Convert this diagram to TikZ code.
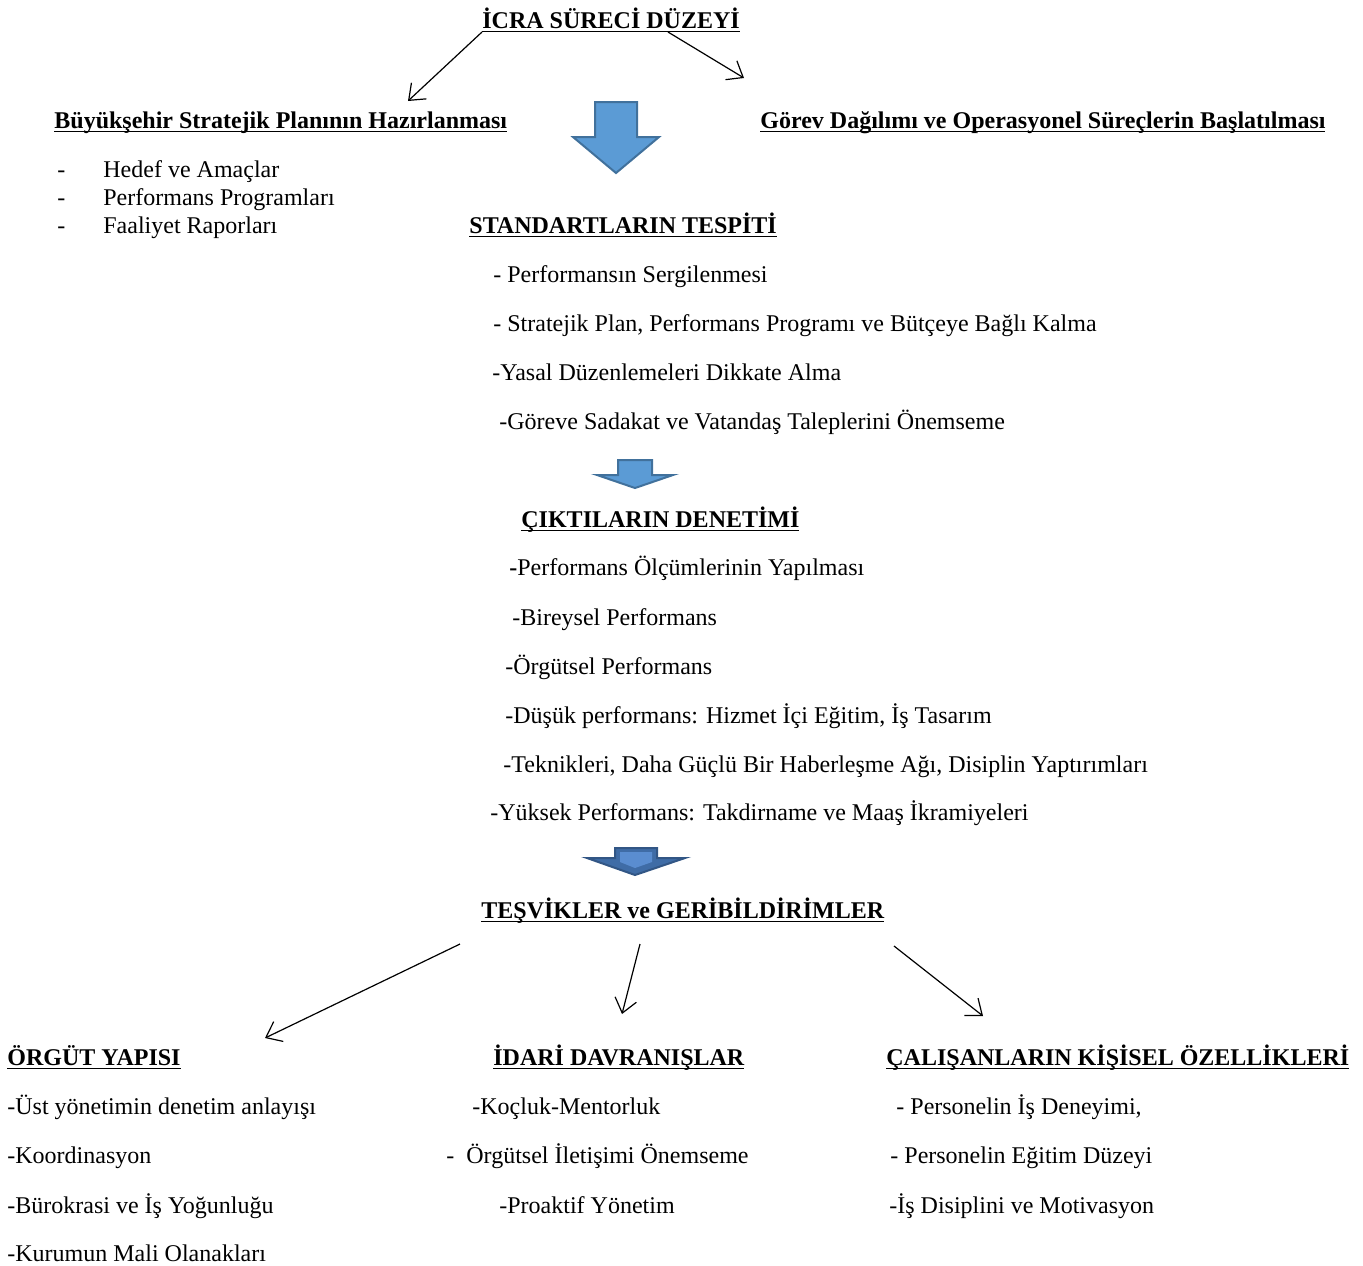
\documentclass[tikz,border=0pt]{standalone}
\usepackage{fontspec}
\setmainfont{Liberation Serif}
\usetikzlibrary{arrows.meta}
\tikzset{
  txt/.style={anchor=base west, inner sep=0pt, font=\fontsize{12}{14}\selectfont},
  head/.style={anchor=base west, inner sep=0pt, font=\fontsize{12}{14}\selectfont\bfseries},
  conn/.style={draw=black, line width=0.6pt, -{Straight Barb[length=7pt,width=11pt]}},
  blk/.style={fill=blockfill, draw=blockedge, line width=1pt, line join=miter},
}
\definecolor{blockfill}{HTML}{5B9BD5}
\definecolor{blockedge}{HTML}{41719C}
\definecolor{darkfill}{HTML}{3F6CA6}
\definecolor{innerfill}{HTML}{5A8DD0}
\newcommand{\hul}[1]{\setbox0\hbox{#1}\leavevmode\rlap{\raisebox{-2.2pt}{\rule{\wd0}{0.8pt}}}\box0}
\begin{document}
\begin{tikzpicture}[x=0.5pt,y=-0.5pt]
\useasboundingbox (0,0) rectangle (1363,1265);

% title
\node[head] (title) at (482,28) {\hul{İCRA SÜRECİ DÜZEYİ}};
\coordinate (tL) at (482,32);
\coordinate (tR) at (668,32);
\node[head] (plan) at (54,128) {\hul{Büyükşehir Stratejik Planının Hazırlanması}};
\node[head] (gorev) at (760,128) {\hul{Görev Dağılımı ve Operasyonel Süreçlerin Başlatılması}};
\coordinate (pE) at (408,101);
\coordinate (gE) at (744,78);
\draw[conn] (tL) -- (pE);
\draw[conn] (tR) -- (gE);

\node[txt] (d1) at (57,177) {-};
\node[txt] (p1) at (103,177) {Hedef ve Amaçlar};
\node[txt] (d2) at (57,205) {-};
\node[txt] (p2) at (103,205) {Performans Programları};
\node[txt] (d3) at (57,233) {-};
\node[txt] (p3) at (103,233) {Faaliyet Raporları};

% big block arrow 1
\draw[blk] (595,102) -- (637,102) -- (637,137) -- (659,137) -- (616,173) -- (573,137) -- (595,137) -- cycle;

\node[head] (std) at (469,233) {\hul{STANDARTLARIN TESPİTİ}};
\node[txt] (s1) at (493,282) {- Performansın Sergilenmesi};
\node[txt] (s2) at (493,331) {- Stratejik Plan, Performans Programı ve Bütçeye Bağlı Kalma};
\node[txt] (s3) at (492,380) {-Yasal Düzenlemeleri Dikkate Alma};
\node[txt] (s4) at (499,429) {-Göreve Sadakat ve Vatandaş Taleplerini Önemseme};

% block arrow 2
\draw[blk] (618,460) -- (652,460) -- (652,475) -- (673,475) -- (635,488) -- (597,475) -- (618,475) -- cycle;

\node[head] (cikti) at (521,527) {\hul{ÇIKTILARIN DENETİMİ}};
\node[txt] (c1) at (509,575) {\textbf{-}Performans Ölçümlerinin Yapılması};
\node[txt] (c2) at (512,625) {-Bireysel Performans};
\node[txt] (c3) at (505,674) {-Örgütsel Performans};
\node[txt] (c4) at (505,723) {-Düşük performans: Hizmet İçi Eğitim, İş Tasarım};
\node[txt] (c5) at (503,772) {-Teknikleri, Daha Güçlü Bir Haberleşme Ağı, Disiplin Yaptırımları};
\node[txt] (c6) at (490,820) {-Yüksek Performans: Takdirname ve Maaş İkramiyeleri};

% block arrow 3
\draw[fill=darkfill, draw=darkfill!80!black, line width=1pt, line join=miter] (615,848) -- (657,848) -- (657,858) -- (685,858) -- (635,875) -- (587,858) -- (615,858) -- cycle;
\fill[innerfill] (620,852) -- (652,852) -- (652,862) -- (635,868) -- (620,862) -- cycle;

\node[head] (tesvik) at (481,918) {\hul{TEŞVİKLER ve GERİBİLDİRİMLER}};
\coordinate (b1s) at (460,944);
\coordinate (b2s) at (640,944);
\coordinate (b3s) at (894,946);
\coordinate (b1e) at (265,1038);
\coordinate (b2e) at (622,1014);
\coordinate (b3e) at (983,1016);
\draw[conn] (b1s) -- (b1e);
\draw[conn] (b2s) -- (b2e);
\draw[conn] (b3s) -- (b3e);

\node[head] (orgut) at (7,1065) {\hul{ÖRGÜT YAPISI}};
\node[head] (idari) at (493,1065) {\hul{İDARİ DAVRANIŞLAR}};
\node[head] (calis) at (886,1065) {\hul{ÇALIŞANLARIN KİŞİSEL ÖZELLİKLERİ}};

\node[txt] (o1) at (7,1114) {-Üst yönetimin denetim anlayışı};
\node[txt] (o2) at (7,1163) {-Koordinasyon};
\node[txt] (o3) at (7,1213) {-Bürokrasi ve İş Yoğunluğu};
\node[txt] (o4) at (7,1261) {-Kurumun Mali Olanakları};

\node[txt] (i1) at (472,1114) {-Koçluk-Mentorluk};
\node[txt] (i2) at (446,1163) {-\ \ Örgütsel İletişimi Önemseme};
\node[txt] (i3) at (499,1213) {-Proaktif Yönetim};

\node[txt] (k1) at (896,1114) {- Personelin İş Deneyimi,};
\node[txt] (k2) at (890,1163) {- Personelin Eğitim Düzeyi};
\node[txt] (k3) at (889,1213) {-İş Disiplini ve Motivasyon};
\end{tikzpicture}
\end{document}
